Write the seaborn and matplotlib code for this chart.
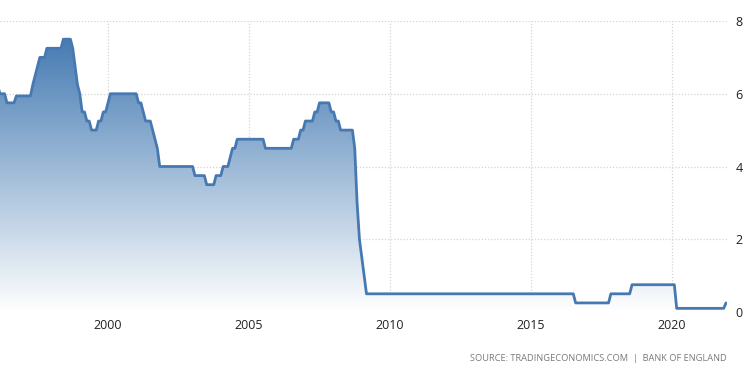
import numpy as np
import pandas as pd
import matplotlib
matplotlib.use("Agg")
import matplotlib.pyplot as plt
import seaborn as sns
from matplotlib.colors import LinearSegmentedColormap

# -----------------------------
# DATA - Bank of England rate (monthly points where the line bends)
# -----------------------------
dates = [
    "1996-02", "1996-03", "1996-05", "1996-06", "1996-09", "1996-10",
    "1997-04", "1997-05", "1997-06", "1997-07", "1997-08", "1997-10", "1997-11",
    "1998-05", "1998-06", "1998-09", "1998-10", "1998-11", "1998-12",
    "1999-01", "1999-02", "1999-03", "1999-04", "1999-05", "1999-06", "1999-08",
    "1999-09", "1999-10", "1999-11", "1999-12",
    "2000-01", "2000-02",
    "2001-01", "2001-02", "2001-03", "2001-04", "2001-05", "2001-07", "2001-08",
    "2001-09", "2001-10", "2001-11",
    "2003-01", "2003-02", "2003-06", "2003-07", "2003-10", "2003-11",
    "2004-01", "2004-02", "2004-04", "2004-05", "2004-06", "2004-07", "2004-08",
    "2005-07", "2005-08",
    "2006-07", "2006-08", "2006-10", "2006-11", "2006-12",
    "2007-01", "2007-04", "2007-05", "2007-06", "2007-07", "2007-11", "2007-12",
    "2008-01", "2008-02", "2008-03", "2008-04", "2008-09", "2008-10", "2008-11", "2008-12",
    "2009-01", "2009-02", "2009-03",
    "2016-07", "2016-08",
    "2017-10", "2017-11",
    "2018-07", "2018-08",
    "2020-02", "2020-03",
    "2021-11", "2021-12",
]
rates = [
    6.25, 6.0, 6.0, 5.75, 5.75, 5.94,
    5.94, 6.25, 6.5, 6.75, 7.0, 7.0, 7.25,
    7.25, 7.5, 7.5, 7.25, 6.75, 6.25,
    6.0, 5.5, 5.5, 5.25, 5.25, 5.0, 5.0,
    5.25, 5.25, 5.5, 5.5,
    5.75, 6.0,
    6.0, 5.75, 5.75, 5.5, 5.25, 5.25, 5.0,
    4.75, 4.5, 4.0,
    4.0, 3.75, 3.75, 3.5, 3.5, 3.75,
    3.75, 4.0, 4.0, 4.25, 4.5, 4.5, 4.75,
    4.75, 4.5,
    4.5, 4.75, 4.75, 5.0, 5.0,
    5.25, 5.25, 5.5, 5.5, 5.75, 5.75, 5.5,
    5.5, 5.25, 5.25, 5.0, 5.0, 4.5, 3.0, 2.0,
    1.5, 1.0, 0.5,
    0.5, 0.25,
    0.25, 0.5,
    0.5, 0.75,
    0.75, 0.1,
    0.1, 0.25,
]
year_ticks = [2000, 2005, 2010, 2015, 2020]
rate_ticks = [0, 2, 4, 6, 8]
source_text = "SOURCE: TRADINGECONOMICS.COM  |  BANK OF ENGLAND"

# -----------------------------
# PREP
# -----------------------------
d = pd.to_datetime(dates)
df = pd.DataFrame({"year": d.year + (d.month - 1) / 12, "rate": rates})

line_color = "#4679b2"
grid_color = "#d4d4d4"

sns.set_style("white")
plt.rcParams['font.family'] = ['Open Sans', 'DejaVu Sans']

fig = plt.figure(figsize=(7.5, 3.75), dpi=100)
ax = fig.add_axes([0.0, 0.168, 0.9693, 0.776])

x0, x1 = 1996.17, 2021.95
ax.set_xlim(x0, x1)
ax.set_ylim(0, 8)

# gradient fill under the line (white at 0 -> blue at top)
cmap = LinearSegmentedColormap.from_list("fade", ["#ffffff", "#3a73ae"])
grad = np.linspace(0, 1, 256).reshape(-1, 1)
img = ax.imshow(grad, extent=[x0, x1, 0, 8], origin="lower", aspect="auto",
                cmap=cmap, zorder=1)
poly = ax.fill_between(df["year"], df["rate"], 0, color="none", lw=0)
img.set_clip_path(poly.get_paths()[0], transform=ax.transData)

sns.lineplot(data=df, x="year", y="rate", ax=ax, color=line_color, lw=2,
             zorder=3)

# grid
ax.set_xticks(year_ticks)
ax.set_yticks(rate_ticks)
ax.grid(True, color=grid_color, linestyle=(0, (1, 1.5)), lw=0.9, zorder=0)
ax.set_axisbelow(True)
for s in ax.spines.values():
    s.set_visible(False)

ax.yaxis.tick_right()
ax.tick_params(axis="both", length=0, labelsize=9, colors="#222222")
ax.tick_params(axis="y", pad=6)
ax.tick_params(axis="x", pad=5)
ax.set_xlabel("")
ax.set_ylabel("")

fig.text(0.9693, 0.045, source_text, ha="right", va="center",
         fontsize=6.7, color="#7a7a7a")

fig.savefig("out.png", dpi=100)
